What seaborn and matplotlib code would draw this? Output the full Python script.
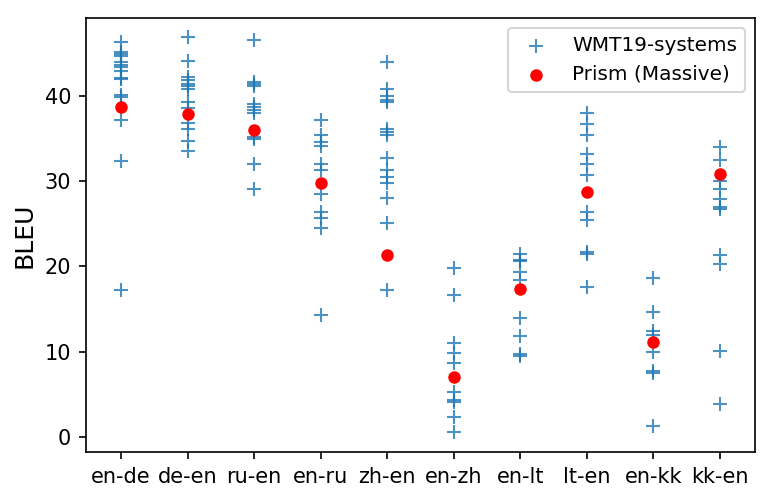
import matplotlib
matplotlib.use('Agg')
from matplotlib import pyplot as plt
import pandas as pd
import seaborn as sns

#### DATA #####################################################################

pairs = ['en-de', 'de-en', 'ru-en', 'en-ru', 'zh-en',
         'en-zh', 'en-lt', 'lt-en', 'en-kk', 'kk-en']

# WMT19 submitted systems, BLEU per language pair
wmt19 = {
    'en-de': [46.4, 45.2, 45.0, 44.7, 44.0, 43.7, 43.4, 43.0, 42.2, 42.0,
              40.1, 39.9, 37.2, 32.4, 17.2],
    'de-en': [47.0, 44.2, 42.3, 41.9, 41.5, 41.2, 40.9, 39.3, 38.6, 36.9,
              36.1, 34.8, 33.6],
    'ru-en': [46.6, 41.7, 41.4, 41.2, 39.1, 38.7, 38.4, 38.0, 35.2, 35.0,
              32.0, 29.1],
    'en-ru': [37.2, 35.4, 34.6, 34.1, 32.0, 31.3, 28.5, 26.4, 25.7, 24.5,
              14.3],
    'zh-en': [44.0, 40.9, 40.0, 39.6, 39.3, 36.2, 35.8, 35.4, 32.7, 31.3,
              30.5, 29.8, 28.1, 25.1, 17.2],
    'en-zh': [19.8, 16.7, 11.0, 9.8, 8.6, 5.2, 4.3, 4.1, 2.3, 0.5],
    'en-lt': [21.5, 20.8, 20.7, 19.3, 18.4, 13.9, 11.8, 9.7, 9.5],
    'lt-en': [38.0, 36.7, 35.5, 33.2, 32.0, 30.8, 26.4, 25.5, 21.7, 21.5,
              17.6],
    'en-kk': [18.7, 14.7, 12.4, 12.0, 10.0, 7.7, 7.5, 1.3],
    'kk-en': [34.0, 32.5, 30.1, 29.1, 27.9, 27.0, 26.8, 21.3, 20.3, 10.1,
              3.8],
}

# Prism (Massive) BLEU per language pair
prism = [38.7, 37.9, 36.0, 29.8, 21.4, 7.0, 17.4, 28.7, 11.1, 30.9]

#### TIDY #####################################################################

sys_df = pd.DataFrame([(p, b) for p in pairs for b in wmt19[p]],
                      columns=['pair', 'bleu'])
prism_df = pd.DataFrame({'pair': pairs, 'bleu': prism})

#### PLOT #####################################################################

fig, ax = plt.subplots(figsize=(773 / 150, 500 / 150), dpi=150)

sns.stripplot(data=sys_df, x='pair', y='bleu', order=pairs, jitter=False,
              marker='+', size=7, linewidth=1, color='#1f77b4', alpha=0.8,
              label='WMT19-systems', ax=ax)
sns.stripplot(data=prism_df, x='pair', y='bleu', order=pairs, jitter=False,
              marker='o', size=6, color='red', linewidth=0,
              label='Prism (Massive)', ax=ax)

ax.set_xlim(-0.53, 9.53)
ax.set_ylim(-1.8, 49.2)
ax.set_yticks([0, 10, 20, 30, 40])
ax.set_xlabel('')
ax.set_ylabel('BLEU', fontsize=12)

# one entry per series
handles, labels = ax.get_legend_handles_labels()
seen = {}
for h, l in zip(handles, labels):
    if l not in seen:
        seen[l] = h
ax.legend(seen.values(), seen.keys(), loc='upper right', fontsize=9.6)

fig.subplots_adjust(left=0.111, right=0.977, top=0.964, bottom=0.096)
fig.savefig('out.png', dpi=150)
